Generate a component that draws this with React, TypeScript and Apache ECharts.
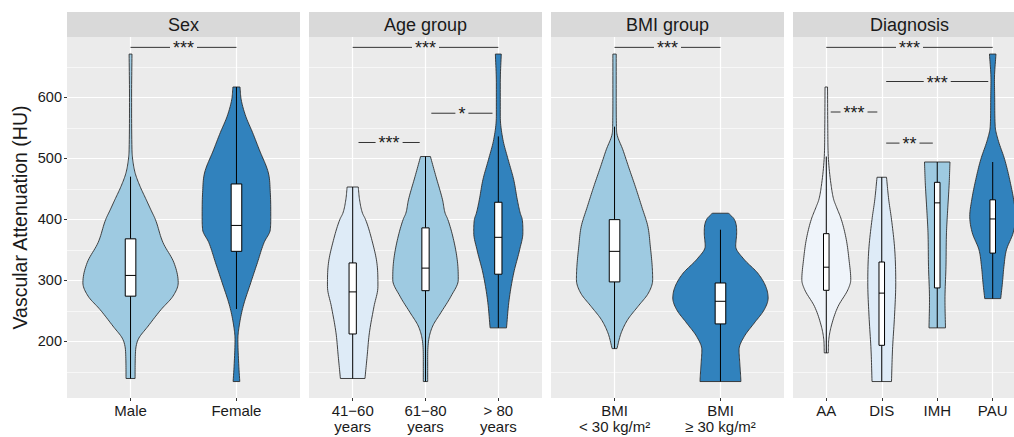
import React, { useEffect, useRef } from "react";
import * as echarts from "echarts";

const FONT = "'Liberation Sans', Arial, Helvetica, sans-serif";

// ---------- axes ----------
const Y_MIN = 107;
const Y_MAX = 699;
const majorTicks = [200, 300, 400, 500, 600];
const minorTicks = [150, 250, 350, 450, 550, 650];
const yTitle = "Vascular Attenuation (HU)";

// ---------- panels ----------
const panelTitles = ["Sex", "Age group", "BMI group", "Diagnosis"];

const sexCats = ["Male", "Female"];
const ageCats = ["41−60\nyears", "61−80\nyears", "> 80\nyears"];
const bmiCats = ["BMI\n< 30 kg/m²", "BMI\n≥ 30 kg/m²"];
const dxCats = ["AA", "DIS", "IMH", "PAU"];

const sexColors = ["#9ECAE1", "#3182BD"];
const ageColors = ["#DEEBF7", "#9ECAE1", "#3182BD"];
const bmiColors = ["#9ECAE1", "#3182BD"];
const dxColors = ["#EFF4FA", "#DEEBF7", "#9ECAE1", "#3182BD"];

// ---------- violin profiles: [HU value, relative half-width (1 = full band)] ----------
const maleViolin = [[139, 0.095], [175, 0.1], [203, 0.16], [225, 0.37], [252, 0.64], [274, 0.89], [296, 1.0], [329, 0.91], [362, 0.68], [400, 0.52], [415, 0.43], [432, 0.33], [454, 0.2], [475, 0.1], [495, 0.05], [514, 0.03], [600, 0.022], [671, 0.03]];
const femaleViolin = [[134, 0.07], [159, 0.05], [203, 0.03], [225, 0.057], [257, 0.14], [296, 0.3], [329, 0.44], [362, 0.58], [383, 0.71], [405, 0.72], [444, 0.71], [476, 0.67], [514, 0.48], [542, 0.34], [569, 0.195], [596, 0.1], [617, 0.074]];

const age41Violin = [[139, 0.375], [175, 0.44], [214, 0.51], [257, 0.65], [290, 0.77], [328, 0.74], [361, 0.61], [400, 0.39], [410, 0.3], [432, 0.21], [453, 0.17]];
const age61Violin = [[134, 0.067], [170, 0.067], [203, 0.1], [225, 0.22], [247, 0.47], [274, 0.78], [301, 1.0], [328, 0.98], [361, 0.88], [400, 0.68], [410, 0.6], [432, 0.52], [470, 0.32], [503, 0.15]];
const age80Violin = [[222, 0.25], [268, 0.33], [312, 0.47], [350, 0.65], [378, 0.75], [400, 0.73], [410, 0.67], [432, 0.58], [465, 0.47], [498, 0.3], [531, 0.14], [569, 0.06], [624, 0.06], [671, 0.09]];

const bmiLowViolin = [[188, 0.05], [214, 0.14], [236, 0.28], [257, 0.49], [279, 0.71], [301, 0.8], [323, 0.79], [356, 0.75], [388, 0.7], [421, 0.57], [454, 0.435], [487, 0.29], [514, 0.175], [540, 0.05], [552, 0.04], [600, 0.035], [671, 0.035]];
const bmiHighViolin = [[134, 0.43], [154, 0.415], [165, 0.405], [186, 0.39], [208, 0.5], [230, 0.71], [252, 0.92], [271, 1.0], [290, 0.95], [312, 0.78], [334, 0.5], [356, 0.32], [378, 0.34], [400, 0.29], [410, 0.17]];

const aaViolin = [[181, 0.08], [203, 0.1], [225, 0.2], [257, 0.47], [285, 0.87], [301, 0.98], [334, 0.91], [367, 0.8], [400, 0.6], [421, 0.4], [432, 0.3], [454, 0.2], [503, 0.08], [550, 0.06], [617, 0.05]];
const disViolin = [[134, 0.39], [186, 0.43], [241, 0.51], [296, 0.56], [350, 0.52], [400, 0.39], [432, 0.28], [469, 0.19]];
const imhViolin = [[222, 0.33], [268, 0.31], [323, 0.35], [378, 0.37], [410, 0.41], [460, 0.48], [494, 0.51]];
const pauViolin = [[270, 0.32], [296, 0.39], [323, 0.45], [350, 0.55], [378, 0.82], [405, 0.92], [432, 0.84], [465, 0.68], [498, 0.48], [531, 0.21], [552, 0.1], [596, 0.08], [629, 0.07], [671, 0.13]];

// ---------- box stats: [lower whisker, Q1, median, Q3, upper whisker] ----------
const sexBoxes = [[139, 274, 308, 368, 470], [253, 347.5, 390, 458, 617]];
const ageBoxes = [[139, 212, 281, 328.5, 453], [134, 283, 320, 386, 503], [222, 310, 370.5, 428, 536]];
const bmiBoxes = [[188, 297.4, 347.5, 399.5, 552], [134, 228.5, 265.6, 295.6, 383]];
const dxBoxes = [[181, 283.6, 321.5, 376.5, 503], [134, 193.4, 279, 330, 469], [222, 287.5, 427, 460.7, 494], [270, 344.6, 400.6, 432, 494]];

// ---------- significance brackets: [group a, group b, HU height, label] ----------
const sexSig = [[1, 2, 682, "***"]];
const ageSig = [[1, 3, 682, "***"], [1, 2, 526, "***"], [2, 3, 574, "*"]];
const bmiSig = [[1, 2, 682, "***"]];
const dxSig = [[1, 4, 682, "***"], [2, 4, 626, "***"], [1, 2, 576, "***"], [2, 3, 525, "**"]];

const panels = [
  { title: panelTitles[0], cats: sexCats, colors: sexColors, violins: [maleViolin, femaleViolin], boxes: sexBoxes, sig: sexSig },
  { title: panelTitles[1], cats: ageCats, colors: ageColors, violins: [age41Violin, age61Violin, age80Violin], boxes: ageBoxes, sig: ageSig },
  { title: panelTitles[2], cats: bmiCats, colors: bmiColors, violins: [bmiLowViolin, bmiHighViolin], boxes: bmiBoxes, sig: bmiSig },
  { title: panelTitles[3], cats: dxCats, colors: dxColors, violins: [aaViolin, disViolin, imhViolin, pauViolin], boxes: dxBoxes, sig: dxSig },
];

// monotone cubic smoothing of the outline (render-time only)
function smoothOutline(pts: number[][]): number[][] {
  const p = [...pts].sort((a, b) => a[0] - b[0]);
  const n = p.length;
  if (n < 3) return p;
  const d: number[] = [];
  for (let i = 0; i < n - 1; i++) d.push((p[i + 1][1] - p[i][1]) / (p[i + 1][0] - p[i][0]));
  const m: number[] = new Array(n).fill(0);
  m[0] = d[0];
  m[n - 1] = d[n - 2];
  for (let i = 1; i < n - 1; i++) m[i] = d[i - 1] * d[i] <= 0 ? 0 : (d[i - 1] + d[i]) / 2;
  for (let i = 0; i < n - 1; i++) {
    if (d[i] === 0) { m[i] = 0; m[i + 1] = 0; continue; }
    const a = m[i] / d[i], b = m[i + 1] / d[i], s = a * a + b * b;
    if (s > 9) { const t = 3 / Math.sqrt(s); m[i] = t * a * d[i]; m[i + 1] = t * b * d[i]; }
  }
  const out: number[][] = [];
  for (let i = 0; i < n - 1; i++) {
    const h = p[i + 1][0] - p[i][0];
    const steps = 10;
    for (let k = 0; k < steps; k++) {
      const t = k / steps, t2 = t * t, t3 = t2 * t;
      const w = (2 * t3 - 3 * t2 + 1) * p[i][1] + (t3 - 2 * t2 + t) * h * m[i] + (-2 * t3 + 3 * t2) * p[i + 1][1] + (t3 - t2) * h * m[i + 1];
      out.push([p[i][0] + t * h, Math.max(w, 0.012)]);
    }
  }
  out.push([p[n - 1][0], Math.max(p[n - 1][1], 0.012)]);
  return out;
}

const GRID_LEFTS = [67, 309, 551, 793];
const GRID_TOP = 37;
const GRID_W = 233;
const GRID_H = 361;
const HALF_BAND = 0.45;
const BOX_HALF = 0.05;
const STAR_SIZE = 18;

function buildOption() {
  const grid: any[] = [];
  const xAxis: any[] = [];
  const yAxis: any[] = [];
  const series: any[] = [];
  const graphic: any[] = [];

  panels.forEach((pn, g) => {
    const n = pn.cats.length;
    const pos = pn.cats.map((_, i) => i + 1);
    grid.push({
      left: GRID_LEFTS[g], top: GRID_TOP, width: GRID_W, height: GRID_H,
      show: true, backgroundColor: "#EBEBEB", borderWidth: 0, containLabel: false, outerBoundsMode: "none",
    });
    xAxis.push({
      type: "value", gridIndex: g, min: 0.4, max: n + 0.6,
      axisLine: { show: false },
      axisTick: { show: true, length: 3, customValues: pos, lineStyle: { color: "#333", width: 1 } },
      axisLabel: {
        customValues: pos, formatter: (v: number) => pn.cats[Math.round(v) - 1] ?? "",
        fontSize: 15, color: "#1a1a1a", margin: 5, lineHeight: 15.5, fontFamily: FONT,
      },
      splitLine: { show: true, lineStyle: { color: "#FFFFFF", width: 1.2 } },
    });
    yAxis.push({
      type: "value", gridIndex: g, min: Y_MIN, max: Y_MAX, position: "left",
      axisLine: { show: false },
      axisTick: { show: g === 0, length: 3, customValues: majorTicks, lineStyle: { color: "#333", width: 1 } },
      axisLabel: { show: g === 0, customValues: majorTicks, fontSize: 14.5, color: "#1a1a1a", margin: 5, fontFamily: FONT },
      splitLine: { show: true, lineStyle: { color: "#FFFFFF", width: 1.2 } },
      name: g === 0 ? yTitle : "", nameLocation: "middle", nameGap: 37,
      nameTextStyle: { fontSize: 19.5, color: "#1a1a1a", fontFamily: FONT },
    });
    yAxis.push({
      type: "value", gridIndex: g, min: Y_MIN, max: Y_MAX, position: "right",
      axisLine: { show: false },
      axisTick: { show: false, customValues: minorTicks },
      axisLabel: { show: false },
      splitLine: { show: true, lineStyle: { color: "#FFFFFF", width: 0.6 } },
    });

    const yi = 2 * g;
    // violins
    series.push({
      type: "custom", xAxisIndex: g, yAxisIndex: yi,
      data: pos.map((p, i) => [p, pn.boxes[i][2]]),
      renderItem: (params: any, api: any) => {
        const i = params.dataIndex;
        const x = api.value(0);
        const prof = smoothOutline(pn.violins[i]);
        const right = prof.map(([v, w]) => api.coord([x + w * HALF_BAND, v]));
        const left = prof.slice().reverse().map(([v, w]) => api.coord([x - w * HALF_BAND, v]));
        return {
          type: "polygon",
          shape: { points: right.concat(left) },
          style: { fill: pn.colors[i], stroke: "#2E2E2E", lineWidth: 0.9 },
        };
      },
    });
    // boxplots
    series.push({
      type: "custom", xAxisIndex: g, yAxisIndex: yi,
      data: pos.map((p, i) => [p, pn.boxes[i][2]]),
      renderItem: (params: any, api: any) => {
        const i = params.dataIndex;
        const x = api.value(0);
        const [lo, q1, med, q3, hi] = pn.boxes[i];
        const c = (xx: number, yy: number) => api.coord([xx, yy]);
        const pLo = c(x, lo), pQ1 = c(x, q1), pQ3 = c(x, q3), pHi = c(x, hi);
        const tl = c(x - BOX_HALF, q3), br = c(x + BOX_HALF, q1);
        const ml = c(x - BOX_HALF, med), mr = c(x + BOX_HALF, med);
        const ls = { stroke: "#000", lineWidth: 1 };
        return {
          type: "group",
          children: [
            { type: "line", shape: { x1: pQ3[0], y1: pQ3[1], x2: pHi[0], y2: pHi[1] }, style: ls },
            { type: "line", shape: { x1: pQ1[0], y1: pQ1[1], x2: pLo[0], y2: pLo[1] }, style: ls },
            { type: "rect", shape: { x: tl[0], y: tl[1], width: br[0] - tl[0], height: br[1] - tl[1] }, style: { fill: "#FFFFFF", stroke: "#000", lineWidth: 1 } },
            { type: "line", shape: { x1: ml[0], y1: ml[1], x2: mr[0], y2: mr[1] }, style: ls },
          ],
        };
      },
    });
    // significance brackets
    series.push({
      type: "custom", xAxisIndex: g, yAxisIndex: yi,
      data: pn.sig.map((s) => [s[0], s[2]]),
      renderItem: (params: any, api: any) => {
        const s = pn.sig[params.dataIndex] as any[];
        const a = s[0] as number, b = s[1] as number, at = s[2] as number, label = s[3] as string;
        const outer = a === 1 && b === n;
        const inset = outer ? 0 : 0.08;
        const p1 = api.coord([a + inset, at]);
        const p2 = api.coord([b - inset, at]);
        const cx = (p1[0] + p2[0]) / 2;
        const half = (label.length * 0.389 * STAR_SIZE) / 2 + 3;
        const ls = { stroke: "#333", lineWidth: 1 };
        return {
          type: "group",
          children: [
            { type: "line", shape: { x1: p1[0], y1: p1[1], x2: cx - half, y2: p1[1] }, style: ls },
            { type: "line", shape: { x1: cx + half, y1: p1[1], x2: p2[0], y2: p1[1] }, style: ls },
            {
              type: "text", x: cx, y: p1[1] + 1,
              style: { text: label, fontSize: STAR_SIZE, fontFamily: FONT, fill: "#1a1a1a", align: "center", verticalAlign: "middle" },
            },
          ],
        };
      },
    });

    // strip header
    graphic.push({ type: "rect", shape: { x: GRID_LEFTS[g], y: 12, width: GRID_W, height: 25 }, style: { fill: "#D9D9D9" }, silent: true });
    graphic.push({
      type: "text", x: GRID_LEFTS[g] + GRID_W / 2, y: 24.5, silent: true,
      style: { text: pn.title, fontSize: 18, fontFamily: FONT, fill: "#1a1a1a", align: "center", verticalAlign: "middle" },
    });
  });

  return {
    animation: false,
    backgroundColor: "#FFFFFF",
    textStyle: { fontFamily: FONT },
    grid, xAxis, yAxis, series, graphic,
  };
}

export default function App() {
  const ref = useRef<HTMLDivElement>(null);
  useEffect(() => {
    if (!ref.current) return;
    const chart = echarts.init(ref.current, undefined, { renderer: "svg" });
    chart.setOption(buildOption() as any);
    return () => chart.dispose();
  }, []);
  return <div ref={ref} style={{ position: "absolute", left: 0, top: 0, width: 1014, height: 437 }} />;
}
